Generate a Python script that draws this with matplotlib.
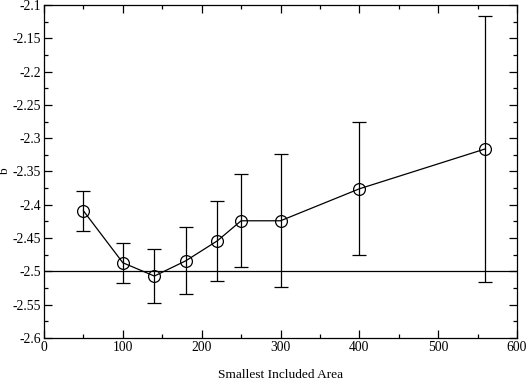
import matplotlib
matplotlib.use("Agg")
import matplotlib.pyplot as plt
from matplotlib.ticker import MultipleLocator

x = [50, 100, 140, 180, 220, 250, 300, 400, 560]
b = [-2.409, -2.487, -2.507, -2.484, -2.454, -2.424, -2.424, -2.376, -2.316]
err = [0.030, 0.030, 0.040, 0.050, 0.060, 0.070, 0.100, 0.100, 0.200]
ref_b = -2.5

plt.rcParams['font.family'] = ['Liberation Serif', 'DejaVu Serif']
fig = plt.figure(figsize=(5.29, 3.82), dpi=100)
ax = fig.add_axes([44/529, 1-338/382, (517-44)/529, (338-5)/382])

ax.axhline(ref_b, color='black', lw=0.9)
ax.errorbar(x, b, yerr=err, color='black', lw=0.9, elinewidth=0.9, capsize=5,
            capthick=0.9, marker='o', markersize=8.5, markerfacecolor='none',
            markeredgecolor='black', markeredgewidth=0.9)

ax.set_xlim(0, 600)
ax.set_ylim(-2.6, -2.1)
ax.xaxis.set_major_locator(MultipleLocator(100))
ax.xaxis.set_minor_locator(MultipleLocator(50))
ax.yaxis.set_major_locator(MultipleLocator(0.05))
ax.yaxis.set_minor_locator(MultipleLocator(0.025))
ax.yaxis.set_major_formatter(matplotlib.ticker.FuncFormatter(lambda v, p: ('%g' % round(v, 3))))
ax.tick_params(which='both', direction='in', top=True, right=True, labelsize=9.8)
ax.tick_params(which='major', length=6, width=0.9, pad=2)
ax.tick_params(which='minor', length=3, width=0.9)
for s in ax.spines.values():
    s.set_linewidth(0.9)
ax.set_xlabel('Smallest Included Area', fontsize=9.6)
ax.set_ylabel('b', fontsize=9.6)
ax.xaxis.set_label_coords(0.5, -0.093)
ax.yaxis.set_label_coords(-0.069, 0.5)

fig.savefig('out.png', dpi=100)
